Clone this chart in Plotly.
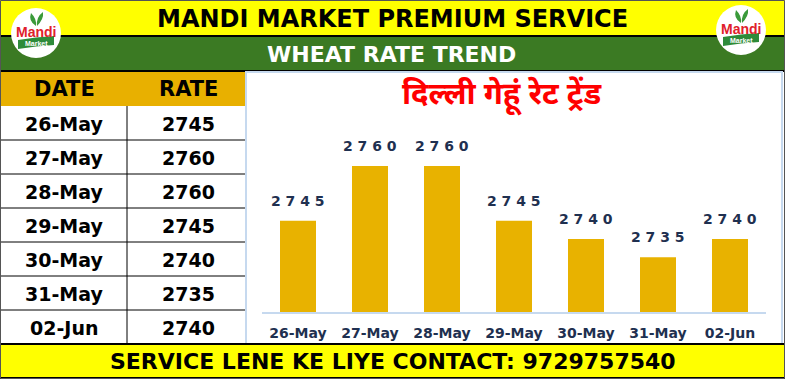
import plotly.graph_objects as go

dates = ["26-May", "27-May", "28-May", "29-May", "30-May", "31-May", "02-Jun"]
rates = [2745, 2760, 2760, 2745, 2740, 2735, 2740]
header_title = "MANDI MARKET PREMIUM SERVICE"
sub_title = "WHEAT RATE TREND"
chart_title = "दिल्ली गेहूं रेट ट्रेंड"
footer_text = "SERVICE LENE KE LIYE CONTACT: 9729757540"
table_headers = ["DATE", "RATE"]

W, H = 785, 379
FONT = "DejaVu Sans"
YELLOW = "#FFFF00"
GREEN = "#3B7A23"
GOLD = "#E8B000"
NAVY = "#1F3050"
LBLUE = "#C6D9EF"


def px(x):
    return x / W


def py(y):
    return 1 - y / H


shapes = []
annotations = []


def rect(x0, y0, x1, y1, fill=None, line=None, lw=0, layer="below"):
    shapes.append(dict(type="rect", xref="paper", yref="paper",
                       x0=px(x0), x1=px(x1), y0=py(y1), y1=py(y0),
                       fillcolor=fill if fill else "rgba(0,0,0,0)",
                       line=dict(color=line if line else "rgba(0,0,0,0)", width=lw),
                       layer=layer))


def hline(x0, x1, y, color="black", lw=1, layer="below"):
    shapes.append(dict(type="line", xref="paper", yref="paper",
                       x0=px(x0), x1=px(x1), y0=py(y), y1=py(y),
                       line=dict(color=color, width=lw), layer=layer))


def vline(x, y0, y1, color="black", lw=1, layer="below"):
    shapes.append(dict(type="line", xref="paper", yref="paper",
                       x0=px(x), x1=px(x), y0=py(y0), y1=py(y1),
                       line=dict(color=color, width=lw), layer=layer))


def text(x, y, s, size, color="black", family=FONT, bold=True):
    annotations.append(dict(xref="paper", yref="paper", x=px(x), y=py(y),
                            text=f"<b>{s}</b>" if bold else s, showarrow=False,
                            xanchor="center", yanchor="middle",
                            font=dict(size=size, color=color, family=family)))


# background bands
rect(0, 0, W, 36, fill=YELLOW)
rect(0, 36, W, 71, fill=GREEN)
hline(0, W, 36, lw=2)
hline(0, W, 71, lw=2)

# table
rect(0, 72, 246, 106, fill=GOLD)
rect(0, 106, 246, 344, fill="white")
row_h = (344 - 106) / len(dates)
for i in range(1, len(dates)):
    hline(0, 246, 106 + i * row_h, lw=1)
vline(127, 106, 344, lw=1)
text(64, 89, table_headers[0], 21)
text(188, 89, table_headers[1], 21)
for i, (d, r) in enumerate(zip(dates, rates)):
    yc = 106 + (i + 0.5) * row_h
    text(64, yc + 1, d, 19)
    text(188, yc + 1, str(r), 19)

# chart panel
rect(246, 72, 782, 344, fill="white", line=LBLUE, lw=2)

# footer
rect(0, 344, W, 379, fill=YELLOW)
hline(0, W, 344, lw=2)
hline(0, W, 378, lw=2)

# outer border
rect(0.5, 0.5, W - 0.5, H - 0.5, line="#555555", lw=1, layer="above")

# header texts
text(392, 19, header_title, 24)
text(391, 54, sub_title, 22, color="white")
text(502, 97, chart_title, 31, color="#FF0000", family="Noto Sans Devanagari, Noto Sans, sans-serif")
text(393, 361, footer_text, 22)

# logos
for cx, cy in [(36, 33), (741, 30)]:
    r = 25
    shapes.append(dict(type="circle", xref="paper", yref="paper",
                       x0=px(cx - r), x1=px(cx + r), y0=py(cy + r), y1=py(cy - r),
                       fillcolor="white", line=dict(color="white", width=0), layer="above"))
    shapes.append(dict(type="path", xref="paper", yref="paper",
                       path=(f"M {px(cx-18)},{py(cy+7)} Q {px(cx)},{py(cy+4)} {px(cx+18)},{py(cy+3)} "
                             f"L {px(cx+18)},{py(cy+12)} Q {px(cx)},{py(cy+13)} {px(cx-18)},{py(cy+16)} Z"),
                       fillcolor="#2E8B3A", line=dict(width=0), layer="above"))
    shapes.append(dict(type="path", xref="paper", yref="paper",
                       path=(f"M {px(cx)},{py(cy-7)} Q {px(cx-8)},{py(cy-12)} {px(cx-5)},{py(cy-20)} "
                             f"Q {px(cx+1)},{py(cy-14)} {px(cx)},{py(cy-7)} Z "
                             f"M {px(cx+1)},{py(cy-7)} Q {px(cx+8)},{py(cy-14)} {px(cx+7)},{py(cy-21)} "
                             f"Q {px(cx)},{py(cy-16)} {px(cx+1)},{py(cy-7)} Z"),
                       fillcolor="#3A9A3A", line=dict(width=0), layer="above"))
    annotations.append(dict(xref="paper", yref="paper", x=px(cx), y=py(cy - 1),
                            text="<b>Mandi</b>", showarrow=False, xanchor="center", yanchor="middle",
                            font=dict(size=14, color="#E0202A", family="Liberation Sans")))
    annotations.append(dict(xref="paper", yref="paper", x=px(cx), y=py(cy + 10),
                            text="<b>Market</b>", showarrow=False, xanchor="center", yanchor="middle",
                            font=dict(size=7, color="white", family="Liberation Sans")))

# bar chart
fig = go.Figure()
fig.add_trace(go.Bar(x=dates, y=rates, marker=dict(color="#E8B200", line=dict(width=0)),
                     width=0.5, hoverinfo="skip"))
for d, r in zip(dates, rates):
    annotations.append(dict(x=d, y=r, xref="x", yref="y", text=f"<b>{' '.join(str(r))}</b>",
                            showarrow=False, yshift=20, yanchor="middle",
                            font=dict(size=14, color=NAVY, family=FONT)))

fig.update_layout(
    width=W, height=H, margin=dict(l=0, r=0, t=0, b=0),
    paper_bgcolor="white", plot_bgcolor="rgba(0,0,0,0)",
    showlegend=False, shapes=shapes, annotations=annotations,
    xaxis=dict(domain=[px(262), px(766)], showline=True, linecolor=LBLUE, linewidth=2,
               ticks="outside", ticklen=7, tickcolor="rgba(0,0,0,0)",
               tickfont=dict(size=14, color=NAVY, family=FONT, weight="bold"),
               showgrid=False, fixedrange=True, automargin=False),
    yaxis=dict(domain=[py(312), py(93)], range=[2720, 2780], showgrid=False,
               showticklabels=False, zeroline=False, fixedrange=True, automargin=False),
)

fig.write_html("out.html", config={"displayModeBar": False},
               post_script="document.body.style.margin='0';document.body.style.overflow='hidden';")
